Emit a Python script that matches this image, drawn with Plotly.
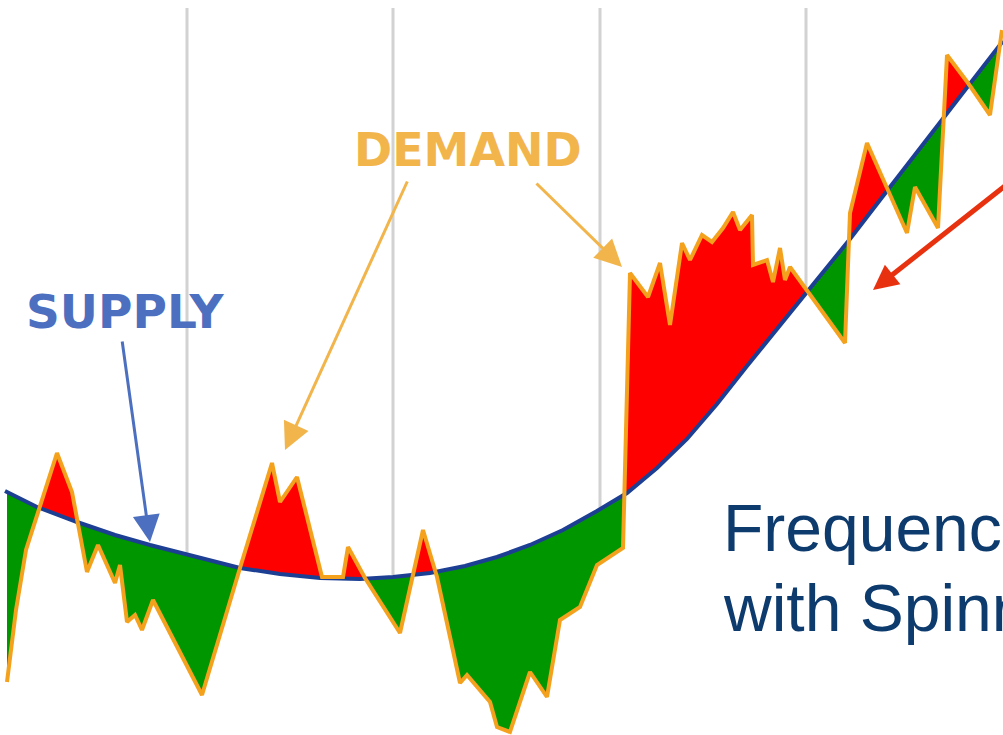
import numpy as np
import plotly.graph_objects as go

# ---------------- data ----------------
supply_x = [5, 37, 77, 115, 150, 188, 240, 280, 320, 360, 393, 430, 465, 497, 530,
            563, 597, 627, 657, 687, 717, 747, 777, 807, 830, 850, 880, 910, 943, 970, 1003]
supply_y = [244, 228, 213, 200, 190, 180, 167, 161, 157, 156, 158, 162, 169, 178, 190,
            205, 224, 242, 267, 296, 331, 369, 406, 442, 471, 496, 535, 574, 616, 651, 694]

demand_x = [7, 16, 26, 57, 72, 78, 87, 98, 115, 120, 127, 135, 142, 153, 202, 240, 272,
            280, 297, 322, 343, 348, 365, 400, 423, 437, 460, 467, 490, 497, 510, 530,
            547, 560, 580, 597, 623, 630, 648, 660, 670, 682, 690, 702, 712, 723, 733,
            740, 752, 753, 767, 773, 780, 785, 790, 845, 850, 867, 907, 915, 938, 947,
            968, 990, 1002]
demand_y = [53, 125, 185, 282, 243, 212, 163, 190, 152, 170, 113, 120, 105, 135, 40, 167,
            272, 233, 258, 158, 158, 188, 157, 102, 205, 158, 52, 60, 33, 8, 3, 63,
            38, 115, 128, 170, 187, 462, 438, 472, 410, 492, 475, 500, 493, 507, 523,
            505, 520, 470, 475, 453, 487, 455, 468, 392, 522, 592, 502, 548, 507, 680,
            652, 620, 705]

grid_x = [187, 393, 600, 806]
grid_top = 727

# ---------------- fills between demand and supply ----------------
sx = np.array(supply_x, float); sy = np.array(supply_y, float)
dx = np.array(demand_x, float); dy = np.array(demand_y, float)
lo, hi = max(sx[0], dx[0]), min(sx[-1], dx[-1])
xs = np.union1d(sx, dx)
xs = xs[(xs >= lo) & (xs <= hi)]
d = np.interp(xs, dx, dy)
s = np.interp(xs, sx, sy)
X, D, S = [xs[0]], [d[0]], [s[0]]
for i in range(1, len(xs)):
    a0, a1 = d[i - 1] - s[i - 1], d[i] - s[i]
    if a0 * a1 < 0:
        t = a0 / (a0 - a1)
        xc = xs[i - 1] + t * (xs[i] - xs[i - 1])
        yc = s[i - 1] + t * (s[i] - s[i - 1])
        X.append(xc); D.append(yc); S.append(yc)
    X.append(xs[i]); D.append(d[i]); S.append(s[i])
X = np.array(X); D = np.array(D); S = np.array(S)
upper = np.maximum(D, S)
lower = np.minimum(D, S)

fig = go.Figure()

# vertical grid lines ending on the supply curve
gx, gy = [], []
for g in grid_x:
    gx += [g, g, None]
    gy += [grid_top, float(np.interp(g, sx, sy)), None]
fig.add_trace(go.Scatter(x=gx, y=gy, mode="lines",
                         line=dict(color="#d2d2d2", width=3), hoverinfo="skip"))

# red: demand above supply
fig.add_trace(go.Scatter(x=X, y=S, mode="lines", line=dict(width=0), hoverinfo="skip"))
fig.add_trace(go.Scatter(x=X, y=upper, mode="lines", line=dict(width=0),
                         fill="tonexty", fillcolor="#ff0000", hoverinfo="skip"))
# green: demand below supply
fig.add_trace(go.Scatter(x=X, y=S, mode="lines", line=dict(width=0), hoverinfo="skip"))
fig.add_trace(go.Scatter(x=X, y=lower, mode="lines", line=dict(width=0),
                         fill="tonexty", fillcolor="#009600", hoverinfo="skip"))

# supply and demand lines
fig.add_trace(go.Scatter(x=supply_x, y=supply_y, mode="lines",
                         line=dict(color="#1c3f94", width=4), name="Supply"))
fig.add_trace(go.Scatter(x=demand_x, y=demand_y, mode="lines",
                         line=dict(color="#f4a21e", width=4), name="Demand"))

# ---------------- annotations ----------------
label_font = "DejaVu Sans"
fig.add_annotation(x=125, y=424, text="<b>SUPPLY</b>", showarrow=False,
                   font=dict(family=label_font, size=47, color="#4c70bf"),
                   xanchor="center", yanchor="middle")
fig.add_annotation(x=468, y=585, text="<b>DEMAND</b>", showarrow=False,
                   font=dict(family=label_font, size=46, color="#f2b54c"),
                   xanchor="center", yanchor="middle")

arrows = [
    dict(x=150, y=193, ax=122, ay=395, color="#4c70bf", w=3, size=1.8),
    dict(x=285, y=285, ax=408, ay=555, color="#f2b54c", w=3, size=1.8),
    dict(x=622, y=468, ax=535, ay=553, color="#f2b54c", w=3, size=1.8),
    dict(x=873, y=445, ax=1010, ay=553, color="#e8320f", w=5, size=1.0),
]
for a in arrows:
    fig.add_annotation(x=a["x"], y=a["y"], ax=a["ax"], ay=a["ay"],
                       xref="x", yref="y", axref="x", ayref="y",
                       text="", showarrow=True, arrowhead=2,
                       arrowsize=a["size"], arrowwidth=a["w"], arrowcolor=a["color"])

fig.add_annotation(x=721, y=207, text="Frequenc", showarrow=False,
                   font=dict(family="Liberation Sans", size=66, color="#0d3b6e"),
                   xanchor="left", yanchor="middle")
fig.add_annotation(x=721, y=127, text="with Spinn", showarrow=False,
                   font=dict(family="Liberation Sans", size=66, color="#0d3b6e"),
                   xanchor="left", yanchor="middle")

fig.update_layout(
    width=1003, height=735,
    margin=dict(l=0, r=0, t=0, b=0),
    paper_bgcolor="white", plot_bgcolor="white",
    showlegend=False, hovermode=False,
    xaxis=dict(range=[0, 1003], visible=False, fixedrange=True),
    yaxis=dict(range=[0, 735], visible=False, fixedrange=True),
)

fig.write_html("out.html")
